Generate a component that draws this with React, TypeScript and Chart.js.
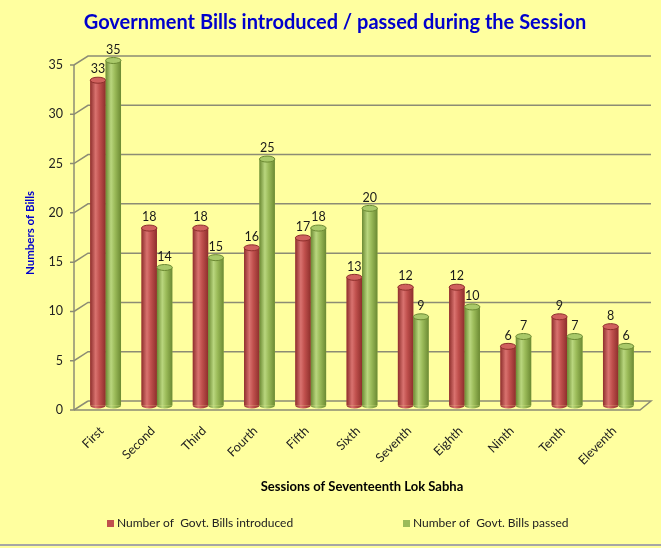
import React, { useEffect, useRef } from "react";
import { Chart, registerables } from "chart.js";

Chart.register(...registerables);

const sessions = ["First", "Second", "Third", "Fourth", "Fifth", "Sixth", "Seventh", "Eighth", "Ninth", "Tenth", "Eleventh"];
const introduced = [33, 18, 18, 16, 17, 13, 12, 12, 6, 9, 8];
const passed = [35, 14, 15, 25, 18, 20, 9, 10, 7, 7, 6];
const yMin = 0;
const yMax = 35;
const yStep = 5;
const chartTitle = "Government Bills introduced / passed during the Session";
const xTitle = "Sessions of Seventeenth Lok Sabha";
const yTitle = "Numbers of Bills";
const seriesLabels = ["Number of  Govt. Bills introduced", "Number of  Govt. Bills passed"];

const FONT = "Lato, 'Liberation Sans', sans-serif";
const BG = "#FFFF9F";
const palette = [
  { base: "#C0504D", dark: "#8E2F2C", light: "#D9726F", top: "#D0605D" },
  { base: "#9BBB59", dark: "#6C8A33", light: "#B9D67E", top: "#A9C969" },
];

const decor = {
  id: "decor",
  beforeDraw(chart: any) {
    const { ctx, width } = chart;
    ctx.save();
    ctx.fillStyle = BG;
    ctx.fillRect(0, 0, chart.width, chart.height);
    ctx.strokeStyle = "#A6A6A6";
    ctx.lineWidth = 2;
    ctx.beginPath();
    ctx.moveTo(0, 545);
    ctx.lineTo(width, 545);
    ctx.stroke();
    ctx.fillStyle = "#0000CC";
    ctx.font = `bold 20px ${FONT}`;
    ctx.textAlign = "center";
    ctx.textBaseline = "middle";
    ctx.fillText(chartTitle, 335, 23);
    ctx.restore();
  },
  beforeDatasetsDraw(chart: any) {
    const { ctx, chartArea, scales } = chart;
    const y = scales.y;
    const fx = chartArea.left - 6;
    const bx = chartArea.left + 8;
    const rb = chartArea.right + 7;
    const rf = chartArea.right - 4;
    ctx.save();
    ctx.strokeStyle = "#8C8C74";
    ctx.lineWidth = 1.5;
    y.ticks.forEach((t: any) => {
      const py = y.getPixelForValue(t.value);
      const yf = py + 4.5;
      const yb = py - 4.5;
      ctx.beginPath();
      ctx.moveTo(fx - 4, yf);
      ctx.lineTo(fx, yf);
      ctx.lineTo(bx, yb);
      if (t.value !== yMin) ctx.lineTo(rb, yb);
      ctx.stroke();
    });
    const p0 = y.getPixelForValue(yMin);
    ctx.beginPath();
    ctx.moveTo(bx, p0 - 4.5);
    ctx.lineTo(rb, p0 - 4.5);
    ctx.lineTo(rf, p0 + 4.5);
    ctx.lineTo(fx, p0 + 4.5);
    ctx.stroke();
    ctx.beginPath();
    ctx.moveTo(fx, y.getPixelForValue(yMax) + 4.5);
    ctx.lineTo(fx, p0 + 4.5);
    ctx.stroke();
    ctx.restore();
  },
  afterDatasetsDraw(chart: any) {
    const { ctx } = chart;
    ctx.save();
    chart.data.datasets.forEach((ds: any, di: number) => {
      const meta = chart.getDatasetMeta(di);
      const c = palette[di];
      meta.data.forEach((bar: any, i: number) => {
        const { x, y, width, base } = bar.getProps(["x", "y", "width", "base"], true);
        const l = x - width / 2;
        const r = x + width / 2;
        const g = ctx.createLinearGradient(l, 0, r, 0);
        g.addColorStop(0, c.dark);
        g.addColorStop(0.35, c.light);
        g.addColorStop(0.6, c.base);
        g.addColorStop(1, c.dark);
        ctx.fillStyle = g;
        ctx.fillRect(l, y, width, base - y);
        ctx.beginPath();
        ctx.ellipse(x, base, width / 2, 3, 0, 0, Math.PI);
        ctx.fill();
        ctx.beginPath();
        ctx.ellipse(x, y, width / 2, 3, 0, 0, Math.PI * 2);
        ctx.fillStyle = c.top;
        ctx.fill();
        ctx.strokeStyle = c.dark;
        ctx.lineWidth = 1;
        ctx.stroke();
        ctx.fillStyle = "#1A1A1A";
        ctx.font = `12.5px ${FONT}`;
        ctx.textAlign = "center";
        ctx.textBaseline = "bottom";
        ctx.fillText(String(ds.data[i]), x, y - 4.5);
      });
    });
    ctx.restore();
  },
  afterDraw(chart: any) {
    const { ctx } = chart;
    ctx.save();
    ctx.font = `12px ${FONT}`;
    ctx.textBaseline = "middle";
    ctx.textAlign = "left";
    const xs = [107, 403];
    chart.data.datasets.forEach((ds: any, di: number) => {
      ctx.fillStyle = palette[di].base;
      ctx.fillRect(xs[di], 520, 7, 7);
      ctx.fillStyle = "#222";
      ctx.fillText(ds.label, xs[di] + 10, 523.5);
    });
    ctx.restore();
  },
};

export default function App() {
  const ref = useRef<HTMLCanvasElement | null>(null);
  useEffect(() => {
    if (!ref.current) return;
    const chart = new Chart(ref.current, {
      type: "bar",
      data: {
        labels: sessions,
        datasets: [
          { label: seriesLabels[0], data: introduced, backgroundColor: palette[0].base, borderWidth: 0 },
          { label: seriesLabels[1], data: passed, backgroundColor: palette[1].base, borderWidth: 0 },
        ],
      },
      options: {
        animation: false,
        responsive: true,
        maintainAspectRatio: false,
        layout: { padding: { left: 0, right: 17, top: 60.5, bottom: 0 } },
        datasets: { bar: { categoryPercentage: 0.6, barPercentage: 1 } },
        plugins: { legend: { display: false }, title: { display: false }, tooltip: { enabled: false } },
        scales: {
          x: {
            grid: { display: false, drawTicks: false },
            border: { display: false },
            ticks: {
              autoSkip: false,
              maxRotation: 45,
              minRotation: 45,
              padding: 18,
              labelOffset: -4,
              color: "#222",
              font: { family: FONT, size: 12.5 },
            },
            title: {
              display: true,
              text: xTitle,
              color: "#000",
              font: { family: FONT, size: 13, weight: "bold" },
              padding: { top: 4, bottom: 53 },
            },
            afterFit(scale: any) {
              scale.height = 142.5;
            },
          },
          y: {
            min: yMin,
            max: yMax,
            grid: { display: false, drawTicks: false },
            border: { display: false },
            ticks: {
              stepSize: yStep,
              padding: 17,
              labelOffset: 4.5,
              color: "#222",
              font: { family: FONT, size: 12.5 },
            },
            title: {
              display: true,
              text: yTitle,
              color: "#0000CC",
              font: { family: FONT, size: 11.5, weight: "bold" },
              padding: { top: 23, bottom: 0 },
            },
            afterFit(scale: any) {
              scale.width = 80;
            },
          },
        },
      },
      plugins: [decor],
    });
    return () => chart.destroy();
  }, []);
  return (
    <div style={{ position: "fixed", left: 0, top: 0, width: 661, height: 548 }}>
      <canvas ref={ref} />
    </div>
  );
}
